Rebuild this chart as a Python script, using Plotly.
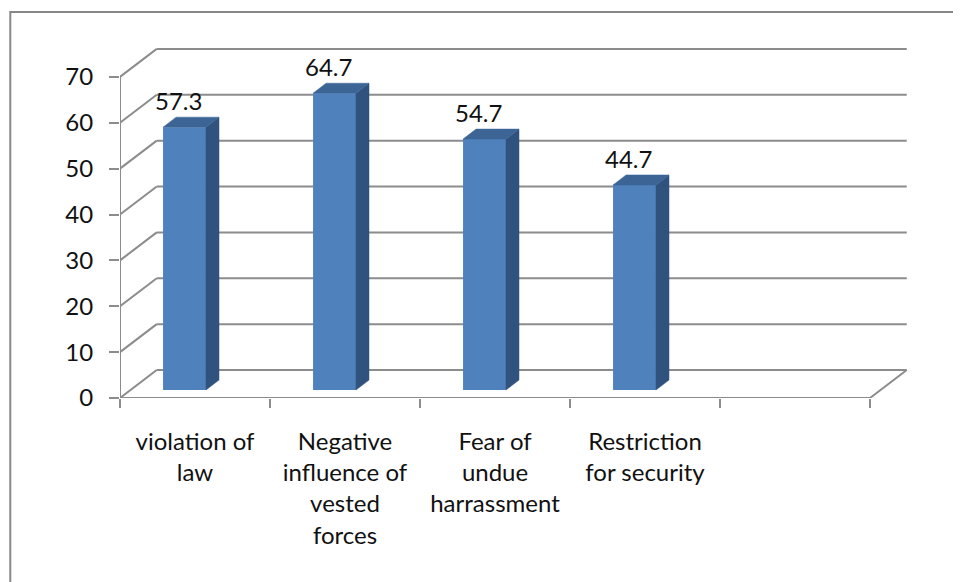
import plotly.graph_objects as go

categories = ["violation of<br>law", "Negative<br>influence of<br>vested<br>forces",
              "Fear of<br>undue<br>harrassment", "Restriction<br>for security", ""]
values = [57.3, 64.7, 54.7, 44.7]
y_ticks = [0, 10, 20, 30, 40, 50, 60, 70]

# fake 3d geometry (data units): wall depth and bar depth
wall_dx, wall_dy = 0.245, 6.1
bar_base, bar_dx, bar_dy = 1.74, 0.087, 2.18
face_left, face_right = -0.213, 0.073

grid_col = "#8c8c8c"
front_col = "#4f81bd"
side_col = "#30527f"
top_col = "#3c6596"
font = "Lato, 'Open Sans', sans-serif"

n = len(categories)
x_lo, x_hi = -0.5, n - 0.5

fig = go.Figure()

# front faces as real bars
fig.add_trace(go.Bar(
    x=[i + (face_left + face_right) / 2 for i in range(len(values))],
    y=values, base=bar_base, width=face_right - face_left,
    marker=dict(color=front_col, line=dict(width=0)),
    hoverinfo="skip", showlegend=False,
))

# side and top faces
for i, v in enumerate(values):
    xl, xr = i + face_left, i + face_right
    top = v + bar_base
    fig.add_trace(go.Scatter(
        x=[xr, xr + bar_dx, xr + bar_dx, xr, xr],
        y=[bar_base, bar_base + bar_dy, top + bar_dy, top, bar_base],
        fill="toself", fillcolor=side_col, mode="lines",
        line=dict(color=side_col, width=0.5), hoverinfo="skip", showlegend=False,
    ))
    fig.add_trace(go.Scatter(
        x=[xl, xr, xr + bar_dx, xl + bar_dx, xl],
        y=[top, top, top + bar_dy, top + bar_dy, top],
        fill="toself", fillcolor=top_col, mode="lines",
        line=dict(color=top_col, width=0.5), hoverinfo="skip", showlegend=False,
    ))
    fig.add_annotation(
        x=i - 0.11, y=top + bar_dy, text=f"{v:.1f}", showarrow=False,
        yanchor="bottom", yshift=0, font=dict(family=font, size=24, color="#111111"),
    )

# walls, gridlines and floor
shapes = []
line = dict(color=grid_col, width=2)
for t in y_ticks:
    shapes.append(dict(type="line", x0=x_lo, y0=t, x1=x_lo + wall_dx, y1=t + wall_dy,
                       line=line, layer="below"))
    shapes.append(dict(type="line", x0=x_lo + wall_dx, y0=t + wall_dy,
                       x1=x_hi + wall_dx, y1=t + wall_dy, line=line, layer="below"))
shapes.append(dict(type="line", x0=x_lo, y0=0, x1=x_lo, y1=y_ticks[-1], line=line, layer="below"))
shapes.append(dict(type="line", x0=x_lo, y0=0, x1=x_hi, y1=0, line=line, layer="below"))
shapes.append(dict(type="line", x0=x_hi, y0=0, x1=x_hi + wall_dx, y1=wall_dy, line=line, layer="below"))
# outer chart frame
shapes.append(dict(type="rect", xref="paper", yref="paper", x0=-0.138, y0=-0.7, x1=1.3, y1=1.052,
                   line=dict(color="#888888", width=2), layer="below"))

fig.update_layout(
    width=953, height=574,
    margin=dict(l=112, r=46, t=23, b=184),
    paper_bgcolor="white", plot_bgcolor="white",
    shapes=shapes, showlegend=False,
    font=dict(family=font, size=24, color="#111111"),
)
fig.update_xaxes(
    range=[x_lo, x_hi + 0.3], tickmode="array", tickvals=list(range(n)), ticktext=categories,
    showgrid=False, zeroline=False, showline=False, ticks="", ticklabelstandoff=27,
    minor=dict(tickmode="array", tickvals=[x_lo + k for k in range(n + 1)], ticks="outside",
               ticklen=9, tickwidth=2, tickcolor=grid_col, showgrid=False),
    tickfont=dict(family=font, size=24, color="#111111"),
)
fig.update_yaxes(
    range=[0, 80], tickmode="array", tickvals=y_ticks,
    showgrid=False, zeroline=False, showline=False,
    ticks="outside", ticklen=10, tickwidth=2, tickcolor=grid_col, ticklabelstandoff=11,
    tickfont=dict(family=font, size=24, color="#111111"),
)

fig.write_html("out.html")
